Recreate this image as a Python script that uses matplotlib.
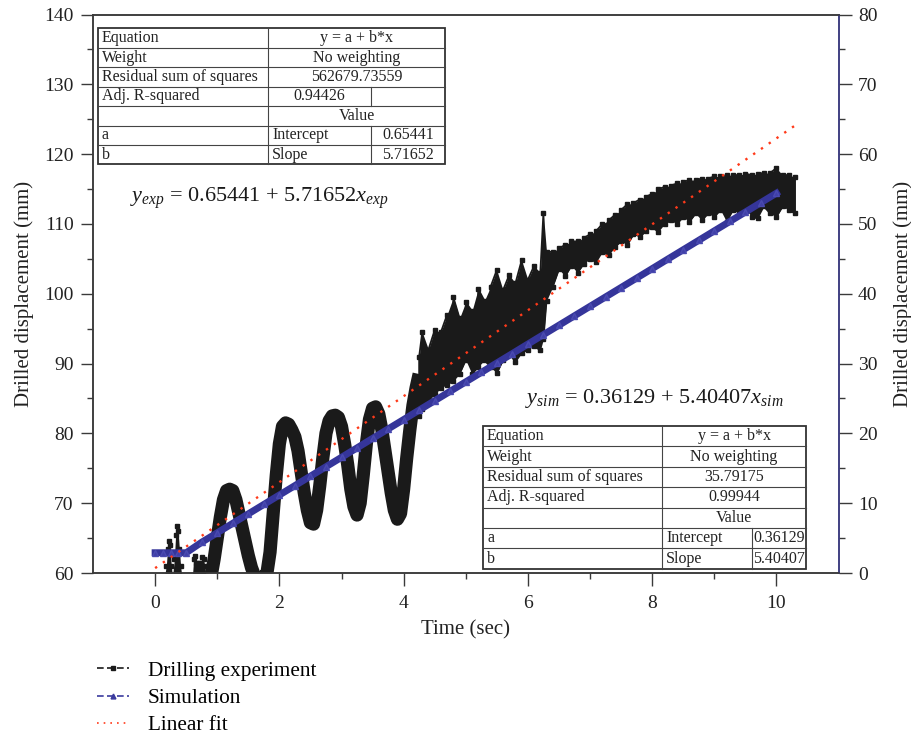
import numpy as np
import matplotlib
matplotlib.use("Agg")
import matplotlib.pyplot as plt
from matplotlib.lines import Line2D
from matplotlib.patches import Rectangle

plt.rcParams['font.family'] = ['Liberation Serif', 'DejaVu Serif']
plt.rcParams['mathtext.fontset'] = 'custom'
plt.rcParams['mathtext.rm'] = 'Liberation Serif'
plt.rcParams['mathtext.it'] = 'Liberation Serif:italic'

# ---------------- data ----------------
# early short spikes of the experiment (top values; they rise from below the axis)
spk_t = [0.15, 0.18, 0.20, 0.22, 0.24, 0.26, 0.28, 0.31, 0.33, 0.35, 0.37, 0.39, 0.41, 0.43,
         0.60, 0.62, 0.64, 0.66, 0.68, 0.70, 0.72, 0.74, 0.76, 0.78, 0.80, 0.82]
spk_hi = [59.5, 61.0, 63.5, 64.6, 64.0, 61.0, 59.5, 62.0, 65.5, 66.8, 66.0, 63.5, 61.0, 59.5,
          59.5, 62.0, 62.5, 61.5, 61.0, 61.5, 61.5, 61.0, 62.3, 62.0, 61.0, 59.5]

# slow oscillation of the experiment (centre of the thick trace)
slow_t = [0.85, 0.90, 0.95, 1.00, 1.05, 1.10, 1.15, 1.20, 1.25, 1.30, 1.35, 1.40, 1.45, 1.50,
          1.55, 1.60, 1.65, 1.70, 1.75, 1.80, 1.85, 1.90, 1.95, 2.00, 2.05, 2.10, 2.15, 2.20,
          2.25, 2.30, 2.35, 2.40, 2.45, 2.50, 2.55, 2.60, 2.65, 2.70, 2.75, 2.80, 2.85, 2.90,
          2.95, 3.00, 3.05, 3.10, 3.15, 3.20, 3.25, 3.30, 3.35, 3.40, 3.45, 3.50, 3.55, 3.60,
          3.65, 3.70, 3.75, 3.80, 3.85, 3.90, 3.95, 4.00, 4.05, 4.10, 4.15, 4.20, 4.25]
slow_y = [57.5, 59.5, 62.0, 65.0, 68.0, 70.5, 71.8, 72.0, 71.8, 70.5, 68.5, 66.5, 64.5, 62.5,
          60.8, 59.6, 59.3, 59.3, 59.5, 60.0, 63.0, 68.5, 74.0, 78.5, 81.0, 81.5, 81.3, 80.5,
          79.5, 77.5, 74.5, 71.5, 69.0, 67.2, 67.0, 69.0, 72.5, 76.5, 80.0, 81.8, 82.5, 82.6,
          82.3, 81.0, 78.5, 75.5, 72.0, 69.5, 68.3, 70.0, 74.0, 78.5, 82.0, 83.6, 83.8, 82.8,
          80.5, 77.5, 74.5, 71.5, 69.0, 67.7, 68.5, 72.0, 76.5, 80.5, 84.0, 86.5, 88.5]

# noisy part of the experiment: lower / upper extremes
exp_t = [4.25, 4.30, 4.40, 4.50, 4.60, 4.70, 4.80, 4.90, 5.00, 5.10, 5.20, 5.30, 5.40, 5.50, 5.60,
         5.70, 5.80, 5.90, 6.00, 6.10, 6.20, 6.25, 6.30, 6.40, 6.50, 6.60, 6.70, 6.80, 6.90, 7.00,
         7.10, 7.20, 7.30, 7.40, 7.50, 7.60, 7.70, 7.80, 7.90, 8.00, 8.10, 8.20, 8.30, 8.40, 8.50,
         8.60, 8.70, 8.80, 8.90, 9.00, 9.10, 9.20, 9.30, 9.40, 9.50, 9.60, 9.70, 9.80, 9.90, 10.00,
         10.10, 10.20, 10.30]
exp_lo = [82.5, 83.5, 84.5, 85.7, 86.5, 87.0, 87.5, 88.5, 90.5, 88.5, 89.5, 90.5, 89.5, 88.6, 90.5,
          91.5, 90.2, 91.5, 92.0, 92.5, 91.9, 93.5, 99.0, 101.0, 103.5, 102.5, 104.0, 103.0, 104.3, 105.0,
          104.5, 106.0, 105.5, 106.7, 107.5, 107.0, 108.5, 108.1, 109.0, 109.5, 108.9, 110.0, 110.5, 110.0,
          111.0, 110.3, 111.5, 110.5, 111.5, 111.0, 112.0, 110.3, 112.0, 111.5, 112.3, 111.0, 110.8, 112.5,
          111.5, 111.0, 112.5, 112.0, 111.5]
exp_hi = [91.0, 94.5, 92.0, 94.8, 94.5, 97.0, 99.5, 96.5, 98.8, 97.5, 100.7, 99.0, 101.0, 103.4, 100.5,
          102.7, 101.5, 104.8, 102.0, 104.0, 103.0, 111.5, 106.0, 106.0, 106.5, 107.0, 107.5, 107.5, 108.0,
          108.5, 109.0, 110.0, 110.5, 111.3, 112.0, 112.8, 113.0, 113.5, 113.9, 114.3, 115.0, 115.3, 115.5,
          115.8, 116.0, 116.3, 116.3, 116.5, 116.5, 116.8, 116.8, 117.0, 117.0, 117.0, 117.2, 117.0, 117.2,
          117.3, 117.3, 118.0, 117.0, 117.0, 116.7]

sim_t = [0.0, 0.125, 0.25, 0.375, 0.5, 0.75, 1.0, 1.25, 1.5, 1.75, 2.0, 2.25, 2.5, 2.75, 3.0,
         3.25, 3.5, 3.75, 4.0, 4.25, 4.5, 4.75, 5.0, 5.25, 5.5, 5.75, 6.0, 6.25, 6.5, 6.75,
         7.0, 7.25, 7.5, 7.75, 8.0, 8.25, 8.5, 8.75, 9.0, 9.25, 9.5, 9.75, 10.0]
sim_y = [2.9, 2.9, 2.9, 2.9, 2.9, 4.41, 5.76, 7.12, 8.47, 9.82, 11.17, 12.52, 13.87, 15.22, 16.57,
         17.92, 19.28, 20.63, 21.98, 23.33, 24.68, 26.03, 27.38, 28.73, 30.08, 31.43, 32.79, 34.14, 35.49,
         36.84, 38.19, 39.54, 40.89, 42.24, 43.59, 44.95, 46.30, 47.65, 49.00, 50.35, 51.70, 53.05, 54.40]

fit_t = [0.0, 10.3]
fit_y = [0.7, 64.1]

legend_labels = ["Drilling experiment", "Simulation", "Linear fit"]

table_exp = [["Equation", "y = a + b*x"],
             ["Weight", "No weighting"],
             ["Residual sum of squares", "562679.73559"],
             ["Adj. R-squared", "0.94426", ""],
             ["", "Value"],
             ["a", "Intercept", "0.65441"],
             ["b", "Slope", "5.71652"]]
table_sim = [["Equation", "y = a + b*x"],
             ["Weight", "No weighting"],
             ["Residual sum of squares", "35.79175"],
             ["Adj. R-squared", "0.99944"],
             ["", "Value"],
             ["a", "Intercept", "0.36129"],
             ["b", "Slope", "5.40407"]]

eq_exp = r"$y_{exp}$ = 0.65441 + 5.71652$x_{exp}$"
eq_sim = r"$y_{sim}$ = 0.36129 + 5.40407$x_{sim}$"

# ---------------- figure ----------------
W, H = 911, 737
fig = plt.figure(figsize=(W / 100, H / 100), dpi=100)
ax = fig.add_axes([93 / W, 1 - 573 / H, (838.5 - 93) / W, (573 - 14.5) / H])
ax2 = ax.twinx()

spine_c = '#3a3a3a'
blk = '#1a1a1a'
ax.set_xlim(-1, 11)
ax.set_ylim(60, 140)
ax2.set_ylim(0, 80)

# experiment
ax.fill_between(spk_t, 59, spk_hi, color=blk, lw=0, zorder=2)
ax.plot(spk_t, spk_hi, color=blk, lw=0, marker='s', ms=3, zorder=3)
ax.plot(slow_t, slow_y, color=blk, lw=9.5, solid_joinstyle='round', solid_capstyle='butt', zorder=2)
ax.fill_between(exp_t, exp_lo, exp_hi, color=blk, lw=0, zorder=2)
zz_t = np.repeat(exp_t, 2)
zz_y = np.empty(2 * len(exp_t))
for i in range(len(exp_t)):
    if i % 2 == 0:
        zz_y[2 * i], zz_y[2 * i + 1] = exp_lo[i], exp_hi[i]
    else:
        zz_y[2 * i], zz_y[2 * i + 1] = exp_hi[i], exp_lo[i]
ax.plot(zz_t, zz_y, color=blk, lw=1.3, marker='s', ms=3.5, zorder=3)

# simulation and fit on the right axis
ax2.plot(sim_t, sim_y, color='#35359a', lw=5.0, marker='^', ms=4.5, mec='#4a4ab0', mfc='#4040a8', zorder=4)
ax2.plot(fit_t, fit_y, color='#ff3a1a', lw=1.7, linestyle=(0, (1, 3)), zorder=5)

# axes styling
for a in (ax, ax2):
    for s in a.spines.values():
        s.set_color(spine_c)
        s.set_linewidth(1.1)
ax2.spines['right'].set_color('#3b3b8e')

ax.set_xticks([0, 2, 4, 6, 8, 10])
ax.set_xticks([1, 3, 5, 7, 9], minor=True)
ax.set_yticks(np.arange(60, 141, 10))
ax.set_yticks(np.arange(65, 140, 10), minor=True)
ax2.set_yticks(np.arange(0, 81, 10))
ax2.set_yticks(np.arange(5, 80, 10), minor=True)
for a in (ax, ax2):
    a.tick_params(which='major', direction='out', length=9, width=1.0, color=spine_c,
                  labelsize=14, labelcolor='#222222', pad=5)
    a.tick_params(which='minor', direction='out', length=4.5, width=1.0, color=spine_c)
ax.tick_params(axis='x', which='major', pad=7)

ax.set_xlabel("Time (sec)", fontsize=15, color='#222222', labelpad=6)
ax.set_ylabel("Drilled displacement (mm)", fontsize=15, color='#222222', labelpad=7)
ax2.set_ylabel("Drilled displacement (mm)", fontsize=15, color='#222222', labelpad=11)

# equations
fig.text(130 / W, 1 - 198 / H, eq_exp, fontsize=16, ha='left', va='center', color=blk)
fig.text(525 / W, 1 - 398 / H, eq_sim, fontsize=16, ha='left', va='center', color=blk)


# tables
def draw_table(rows, cols, top, rh, fs=11.5):
    nrow = len(rows)
    x0, x1, x2, x3 = cols
    bottom = top + rh * nrow
    fig.add_artist(Rectangle((x0 / W, 1 - bottom / H), (x3 - x0) / W, (bottom - top) / H,
                             transform=fig.transFigure, facecolor='white', edgecolor='#333333',
                             lw=1.3, zorder=10))

    def hline(y, xa, xb, lw=0.8):
        fig.add_artist(Line2D([xa / W, xb / W], [1 - y / H, 1 - y / H], transform=fig.transFigure,
                              color='#444444', lw=lw, zorder=11))

    def vline(x, ya, yb, lw=0.8):
        fig.add_artist(Line2D([x / W, x / W], [1 - ya / H, 1 - yb / H], transform=fig.transFigure,
                              color='#444444', lw=lw, zorder=11))

    for r in range(1, nrow):
        hline(top + r * rh, x0, x3)
    vline(x1, top, bottom)
    for r, row in enumerate(rows):
        ya, yb = top + r * rh, top + (r + 1) * rh
        yc = 1 - (ya + yb) / 2 / H
        fig.text((x0 + 4) / W, yc, row[0], fontsize=fs, ha='left', va='center', color='#222222', zorder=12)
        if len(row) == 2:
            fig.text((x1 + x3) / 2 / W, yc, row[1], fontsize=fs, ha='center', va='center',
                     color='#222222', zorder=12)
        else:
            vline(x2, ya, yb)
            if r == 3:
                fig.text((x1 + x2) / 2 / W, yc, row[1], fontsize=fs, ha='center', va='center',
                         color='#222222', zorder=12)
            else:
                fig.text((x1 + 4) / W, yc, row[1], fontsize=fs, ha='left', va='center',
                         color='#222222', zorder=12)
            fig.text((x2 + x3) / 2 / W, yc, row[2], fontsize=fs, ha='center', va='center',
                     color='#222222', zorder=12)


draw_table(table_exp, [98, 268, 371, 445], 28.5, 19.4)
draw_table(table_sim, [483, 662, 752, 806], 426, 20.4)

# legend
handles = [Line2D([], [], color=blk, lw=1.2, linestyle=(0, (4, 2)), marker='s', ms=3),
           Line2D([], [], color='#3b3b9e', lw=1.2, linestyle=(0, (4, 2)), marker='^', ms=3.5),
           Line2D([], [], color='#ff3a1a', lw=1.2, linestyle=(0, (1, 3)))]
fig.legend(handles, legend_labels, loc='upper left', bbox_to_anchor=(97 / W, 1 - 661 / H),
           frameon=False, fontsize=15.3, handlelength=1.5, handletextpad=0.9, labelspacing=0.34,
           borderpad=0, borderaxespad=0)

fig.savefig("out.png", dpi=100)
